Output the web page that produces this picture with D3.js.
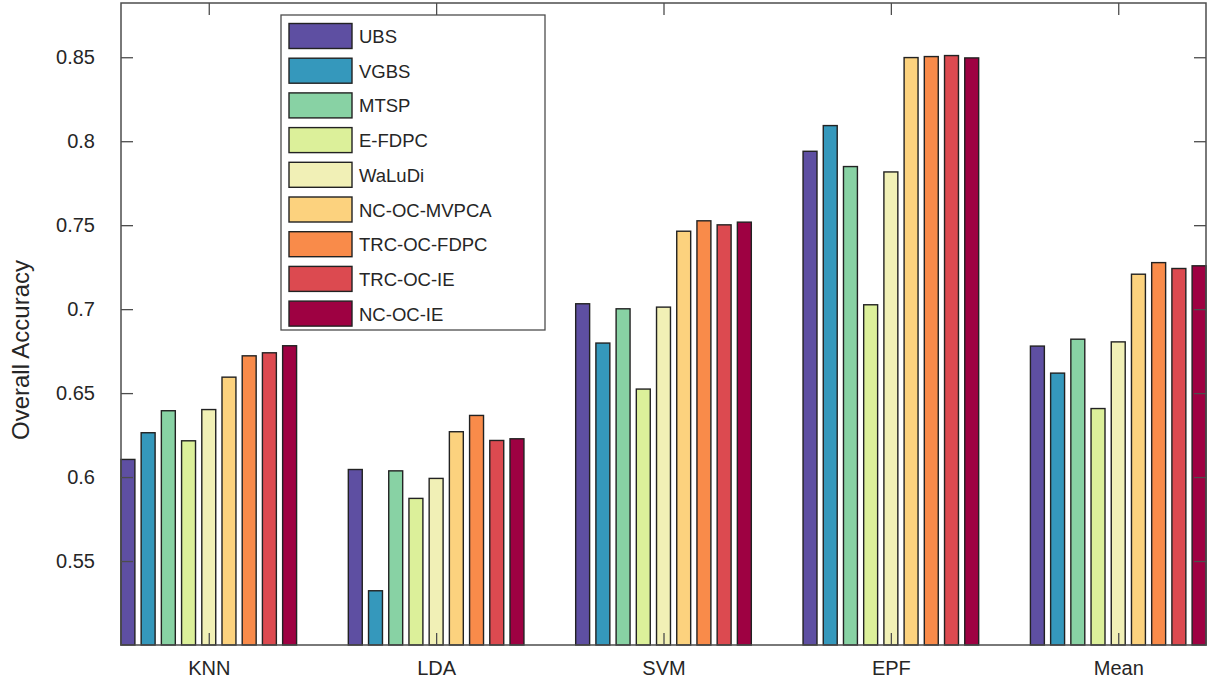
<!DOCTYPE html>
<html lang="en">
<head>
  <meta charset="utf-8">
  <title>Overall Accuracy</title>
  <script src="https://d3js.org/d3.v7.min.js"></script>
  <style>
    body { margin: 0; background: #fff; }
    text { font-family: "Liberation Sans", Arial, sans-serif; fill: #262626; }
  </style>
</head>
<body>
  <script type="text/javascript">
  // categories and methods
  var categories = ["KNN", "LDA", "SVM", "EPF", "Mean"];
  var methods = ["UBS", "VGBS", "MTSP", "E-FDPC", "WaLuDi", "NC-OC-MVPCA", "TRC-OC-FDPC", "TRC-OC-IE", "NC-OC-IE"];
  var colors = ["#5E4FA2", "#3598BC", "#88D2A4", "#DCF09A", "#F1F0B6", "#FCD27E", "#F98B4A", "#DC4A50", "#9E0142"];

  // one array per method, values for KNN, LDA, SVM, EPF, Mean
  var UBS        = [0.6105, 0.6045, 0.7032, 0.7940, 0.6780];
  var VGBS       = [0.6264, 0.5323, 0.6798, 0.8093, 0.6619];
  var MTSP       = [0.6395, 0.6037, 0.7002, 0.7849, 0.6821];
  var E_FDPC     = [0.6216, 0.5873, 0.6524, 0.7026, 0.6408];
  var WaLuDi     = [0.6402, 0.5992, 0.7012, 0.7817, 0.6805];
  var NC_OC_MVPCA = [0.6595, 0.6270, 0.7464, 0.8498, 0.7208];
  var TRC_OC_FDPC = [0.6722, 0.6367, 0.7526, 0.8504, 0.7277];
  var TRC_OC_IE  = [0.6740, 0.6218, 0.7502, 0.8510, 0.7242];
  var NC_OC_IE   = [0.6782, 0.6228, 0.7518, 0.8496, 0.7258];
  var series = [UBS, VGBS, MTSP, E_FDPC, WaLuDi, NC_OC_MVPCA, TRC_OC_FDPC, TRC_OC_IE, NC_OC_IE];

  var yTicks = [0.55, 0.6, 0.65, 0.7, 0.75, 0.8, 0.85];
  var yTickLabels = ["0.55", "0.6", "0.65", "0.7", "0.75", "0.8", "0.85"];

  var w = 1215;
  var h = 686;
  // note: "top" is a reserved window property, so use prefixed names
  var pLeft = 121, pRight = 1206, pTop = 3, pBottom = 645;
  var tickLen = 12;

  var svg = d3.select("body")
    .append("svg")
    .attr("width", w)
    .attr("height", h);

  var x = d3.scaleLinear().domain([0.614, 5.386]).range([pLeft, pRight]);
  var y = d3.scaleLinear().domain([0.5, 0.8823]).range([pBottom, pTop]);

  var groupWidth = 0.8;
  var step = groupWidth / methods.length;
  var barW = x(step * 0.69) - x(0);

  // bars
  var data = [];
  series.forEach(function(vals, j){
    vals.forEach(function(v, i){
      data.push({cat: i, m: j, v: v});
    });
  });

  svg.append("g")
    .selectAll("rect")
    .data(data)
    .enter()
    .append("rect")
    .attr("x", function(d){
      return x(d.cat + 1 + (d.m - (methods.length - 1) / 2) * step) - barW / 2;
    })
    .attr("y", function(d){ return y(d.v); })
    .attr("width", barW)
    .attr("height", function(d){ return y(0.5) - y(d.v); })
    .attr("fill", function(d){ return colors[d.m]; })
    .attr("stroke", "#222")
    .attr("stroke-width", 1.4);

  // axes box with inward ticks
  var axisColor = "#4d4d4d";
  var yLeft = d3.axisLeft(y).tickValues(yTicks)
    .tickFormat(function(d, i){ return yTickLabels[i]; })
    .tickSizeInner(-tickLen).tickSizeOuter(0).tickPadding(26);
  var yRight = d3.axisRight(y).tickValues(yTicks)
    .tickFormat("").tickSizeInner(-tickLen).tickSizeOuter(0);
  var xBottom = d3.axisBottom(x).tickValues([1, 2, 3, 4, 5])
    .tickFormat(function(d){ return categories[d - 1]; })
    .tickSizeInner(-tickLen).tickSizeOuter(0).tickPadding(16);
  var xTop = d3.axisTop(x).tickValues([1, 2, 3, 4, 5])
    .tickFormat("").tickSizeInner(-tickLen).tickSizeOuter(0);

  function styleAxis(g){
    g.select(".domain").remove();
    g.selectAll("line").attr("stroke", axisColor).attr("stroke-width", 1.3);
    g.selectAll("text")
      .attr("font-family", "Liberation Sans, Arial, sans-serif")
      .attr("font-size", "20px")
      .attr("fill", "#262626");
  }

  svg.append("g").attr("transform", "translate(" + pLeft + ",0)").call(yLeft).call(styleAxis);
  svg.append("g").attr("transform", "translate(" + pRight + ",0)").call(yRight).call(styleAxis);
  svg.append("g").attr("transform", "translate(0," + pBottom + ")").call(xBottom).call(styleAxis);
  svg.append("g").attr("transform", "translate(0," + pTop + ")").call(xTop).call(styleAxis);

  svg.append("rect")
    .attr("x", pLeft)
    .attr("y", pTop)
    .attr("width", pRight - pLeft)
    .attr("height", pBottom - pTop)
    .attr("fill", "none")
    .attr("stroke", axisColor)
    .attr("stroke-width", 1.5);

  // y label
  svg.append("text")
    .text("Overall Accuracy")
    .attr("transform", "translate(29,350) rotate(-90)")
    .attr("text-anchor", "middle")
    .attr("font-size", "24px");

  // legend
  var lx = 281, ly = 15, lw = 264, lh = 315;
  var legend = svg.append("g");
  legend.append("rect")
    .attr("x", lx)
    .attr("y", ly)
    .attr("width", lw)
    .attr("height", lh)
    .attr("fill", "#fff")
    .attr("stroke", axisColor)
    .attr("stroke-width", 1.3);

  var rowH = 34.7;
  var items = legend.selectAll("g.item")
    .data(methods)
    .enter()
    .append("g")
    .attr("class", "item")
    .attr("transform", function(d, i){
      return "translate(" + (lx + 8) + "," + (ly + 8.5 + i * rowH) + ")";
    });
  items.append("rect")
    .attr("width", 63)
    .attr("height", 25)
    .attr("fill", function(d, i){ return colors[i]; })
    .attr("stroke", "#222")
    .attr("stroke-width", 1.4);
  items.append("text")
    .text(function(d){ return d; })
    .attr("x", 70)
    .attr("y", 19.5)
    .attr("font-size", "18.5px");
  </script>
</body>
</html>
